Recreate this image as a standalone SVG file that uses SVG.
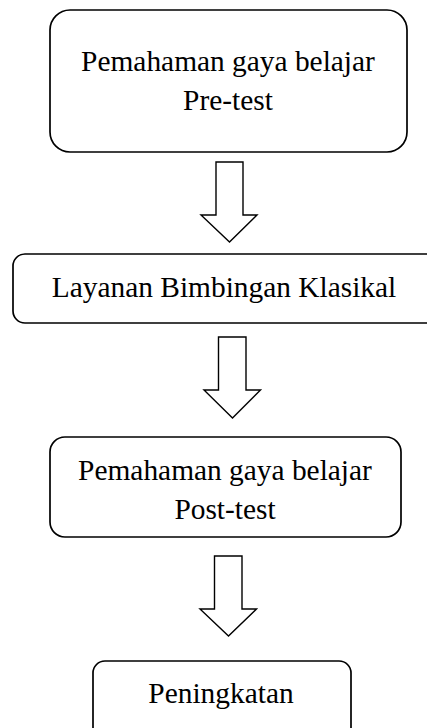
<svg xmlns="http://www.w3.org/2000/svg" width="427" height="728" viewBox="0 0 427 728">
<style>
.box{fill:#fff;stroke:#000;stroke-width:1.7}
.arr{fill:#fff;stroke:#000;stroke-width:1.4;stroke-linejoin:miter}
text{font-family:"Liberation Serif","Times New Roman",serif;font-size:29.4px;fill:#000;text-anchor:middle}
</style>
<rect width="427" height="728" fill="#fff"/>
<g id="connectors">
<polygon class="arr" points="216,162 243,162 243,215 257,215 229.5,242 201,215 216,215"/>
<polygon class="arr" points="218.5,337 246,337 246,390 260.5,390 232.5,418 204,390 218.5,390"/>
<polygon class="arr" points="214.5,556 242,556 242,609 256.5,609 228.5,636 200,609 214.5,609"/>
</g>
<g id="node1">
<rect class="box" x="50" y="10" width="357" height="142" rx="20"/>
<text x="228" y="71">Pemahaman gaya belajar</text>
<text x="228" y="110">Pre-test</text>
</g>
<g id="node2">
<rect class="box" x="13" y="254" width="430" height="69" rx="12"/>
<text x="224" y="297">Layanan Bimbingan Klasikal</text>
</g>
<g id="node3">
<rect class="box" x="50" y="437" width="351" height="100" rx="15"/>
<text x="225" y="480">Pemahaman gaya belajar</text>
<text x="225" y="519">Post-test</text>
</g>
<g id="node4">
<rect class="box" x="93" y="661" width="258" height="80" rx="12"/>
<text x="221" y="703">Peningkatan</text>
</g>
</svg>
